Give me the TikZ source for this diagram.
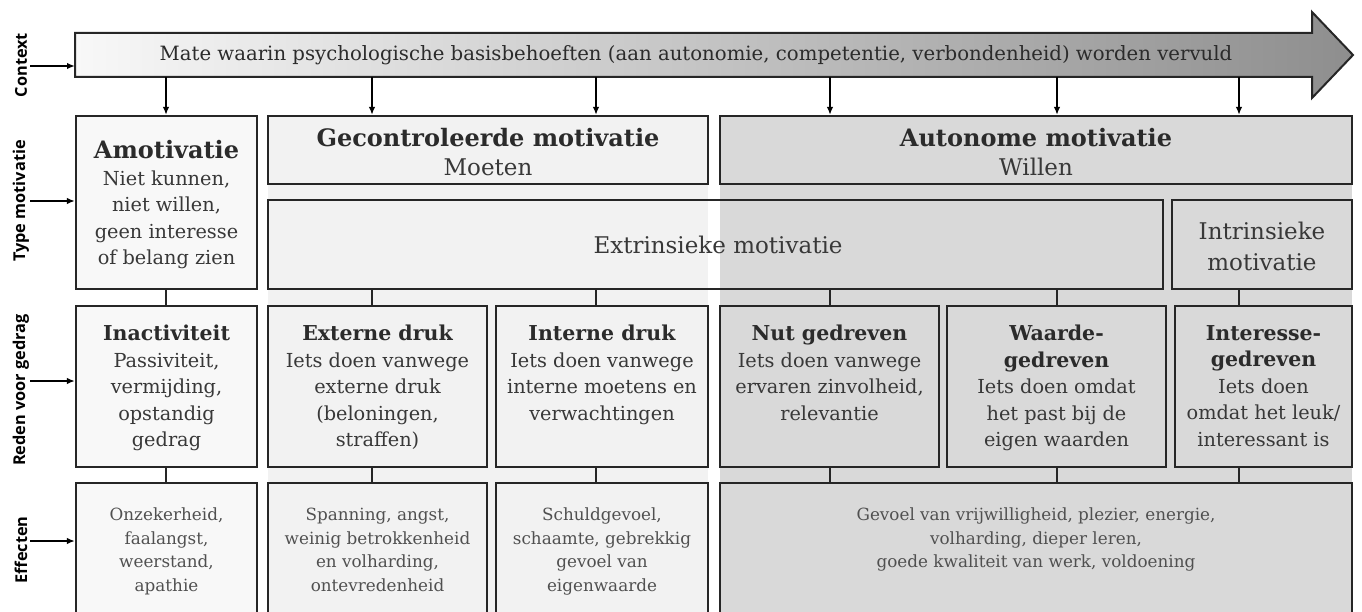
\documentclass[tikz,border=0pt]{standalone}
\usepackage{fontspec}
\setmainfont{DejaVu Serif}
\newfontfamily\labfont{Open Sans}
\usetikzlibrary{arrows.meta,calc}
\definecolor{bordc}{HTML}{262626}
\definecolor{txtc}{HTML}{383838}
\definecolor{ttlc}{HTML}{2B2B2B}
\definecolor{efftc}{HTML}{505050}
\definecolor{lightcol}{HTML}{F2F2F2}
\definecolor{graycol}{HTML}{D9D9D9}
\definecolor{amotcol}{HTML}{F8F8F8}
\definecolor{arrowl}{HTML}{F8F8F8}
\definecolor{arrowr}{HTML}{8E8E8E}
\begin{document}
\begin{tikzpicture}[x=1pt,y=-1pt,
  boxst/.style={draw=bordc, line width=2.2pt, inner sep=0pt},
  body/.style={text=txtc, align=center, inner sep=0pt, font=\fontsize{19.3}{26.5}\selectfont},
  bigst/.style={text=txtc, align=center, inner sep=0pt, font=\fontsize{23}{29}\selectfont},
  effst/.style={text=efftc, align=center, inner sep=0pt, font=\fontsize{16.8}{23.5}\selectfont},
  labst/.style={text=black, inner sep=0pt, rotate=90, font=\labfont\bfseries\fontsize{16.3}{18}\selectfont},
  conn/.style={draw=bordc, line width=1.8pt},
  carrow/.style={draw=black, line width=1.8pt, -{Latex[length=8pt,width=6.5pt]}}
]
\useasboundingbox (0,0) rectangle (1362,612);
\begin{scope}
\clip (0,0) rectangle (1362,612);
% column backgrounds
\fill[lightcol] (268,184) rectangle (708,640);
\fill[graycol] (720,184) rectangle (1352,640);
% context arrow
\shade[left color=arrowl, right color=arrowr, draw=bordc, line width=2pt]
  (75,33) -- (1312,33) -- (1312,12) -- (1353,55) -- (1312,98) -- (1312,77) -- (75,77) -- cycle;
\node[body, text=ttlc, font=\fontsize{19.7}{22}\selectfont] (ctx) at (696,55) {Mate waarin psychologische basisbehoeften (aan autonomie, competentie, verbondenheid) worden vervuld};
% row 1
\node[boxst, fill=amotcol, minimum width=181pt, minimum height=173pt] (amot) at (166.5,202.5) {};
\node[boxst, fill=lightcol, minimum width=440pt, minimum height=68pt] (gec) at (488,150) {};
\node[boxst, fill=graycol, minimum width=632pt, minimum height=68pt] (aut) at (1036,150) {};
% row 2
\node[boxst, minimum width=895pt, minimum height=89pt] (extr) at (715.5,244.5) {};
\node[boxst, fill=graycol, minimum width=180pt, minimum height=89pt] (intr) at (1262,244.5) {};
% row 3
\node[boxst, fill=amotcol, minimum width=181pt, minimum height=161pt] (inact) at (166.5,386.5) {};
\node[boxst, fill=lightcol, minimum width=219pt, minimum height=161pt] (extd) at (377.5,386.5) {};
\node[boxst, fill=lightcol, minimum width=212pt, minimum height=161pt] (intd) at (602,386.5) {};
\node[boxst, fill=graycol, minimum width=219pt, minimum height=161pt] (nut) at (829.5,386.5) {};
\node[boxst, fill=graycol, minimum width=219pt, minimum height=161pt] (waarde) at (1056.5,386.5) {};
\node[boxst, fill=graycol, minimum width=177pt, minimum height=161pt] (inter) at (1263.5,386.5) {};
% row 4
\node[boxst, fill=amotcol, minimum width=181pt, minimum height=157pt] (eff1) at (166.5,561.5) {};
\node[boxst, fill=lightcol, minimum width=219pt, minimum height=157pt] (eff2) at (377.5,561.5) {};
\node[boxst, fill=lightcol, minimum width=212pt, minimum height=157pt] (eff3) at (602,561.5) {};
\node[boxst, fill=graycol, minimum width=632pt, minimum height=157pt] (eff4) at (1036,561.5) {};
% connector x positions
\coordinate (k1) at (166,77);
\coordinate (k2) at (372,77);
\coordinate (k3) at (596,77);
\coordinate (k4) at (830,77);
\coordinate (k5) at (1057,77);
\coordinate (k6) at (1239,77);
% arrows from context
\draw[carrow] (k1) -- (k1 |- amot.north);
\draw[carrow] (k2) -- (k2 |- gec.north);
\draw[carrow] (k3) -- (k3 |- gec.north);
\draw[carrow] (k4) -- (k4 |- aut.north);
\draw[carrow] (k5) -- (k5 |- aut.north);
\draw[carrow] (k6) -- (k6 |- aut.north);
% row 2 -> row 3
\draw[conn] (k1 |- amot.south) -- (k1 |- inact.north);
\draw[conn] (k2 |- extr.south) -- (k2 |- extd.north);
\draw[conn] (k3 |- extr.south) -- (k3 |- intd.north);
\draw[conn] (k4 |- extr.south) -- (k4 |- nut.north);
\draw[conn] (k5 |- extr.south) -- (k5 |- waarde.north);
\draw[conn] (k6 |- intr.south) -- (k6 |- inter.north);
% row 3 -> row 4
\draw[conn] (k1 |- inact.south) -- (k1 |- eff1.north);
\draw[conn] (k2 |- extd.south) -- (k2 |- eff2.north);
\draw[conn] (k3 |- intd.south) -- (k3 |- eff3.north);
\draw[conn] (k4 |- nut.south) -- (k4 |- eff4.north);
\draw[conn] (k5 |- waarde.south) -- (k5 |- eff4.north);
\draw[conn] (k6 |- inter.south) -- (k6 |- eff4.north);
% texts row 1
\node[body] (amot-t) at (166.5,205) {{\color{ttlc}\bfseries\fontsize{24}{30}\selectfont Amotivatie}\\Niet kunnen,\\niet willen,\\geen interesse\\of belang zien};
\node[bigst] (gec-t) at (488,152) {{\color{ttlc}\bfseries\fontsize{24}{29}\selectfont Gecontroleerde motivatie}\\Moeten};
\node[bigst] (aut-t) at (1036,152) {{\color{ttlc}\bfseries\fontsize{24}{29}\selectfont Autonome motivatie}\\Willen};
% texts row 2
\node[bigst] (extr-t) at (718,244.5) {Extrinsieke motivatie};
\node[bigst, font=\fontsize{23}{31}\selectfont] (intr-t) at (1262,246) {Intrinsieke\\motivatie};
% texts row 3
\node[body, anchor=north, yshift=-20pt] (inact-t) at (inact.north) {{\color{ttlc}\bfseries\fontsize{20.5}{26.5}\selectfont Inactiviteit}\\Passiviteit,\\vermijding,\\opstandig\\gedrag};
\node[body, anchor=north, yshift=-20pt] (extd-t) at (extd.north) {{\color{ttlc}\bfseries\fontsize{20.5}{26.5}\selectfont Externe druk}\\Iets doen vanwege\\externe druk\\(beloningen,\\straffen)};
\node[body, anchor=north, yshift=-20pt] (intd-t) at (intd.north) {{\color{ttlc}\bfseries\fontsize{20.5}{26.5}\selectfont Interne druk}\\Iets doen vanwege\\interne moetens en\\verwachtingen};
\node[body, anchor=north, yshift=-20pt] (nut-t) at (nut.north) {{\color{ttlc}\bfseries\fontsize{20.5}{26.5}\selectfont Nut gedreven}\\Iets doen vanwege\\ervaren zinvolheid,\\relevantie};
\node[body, anchor=north, yshift=-20pt] (waarde-t) at (waarde.north) {{\color{ttlc}\bfseries\fontsize{20.5}{26.5}\selectfont Waarde-}\\{\color{ttlc}\bfseries\fontsize{20.5}{26.5}\selectfont gedreven}\\Iets doen omdat\\het past bij de\\eigen waarden};
\node[body, anchor=north, yshift=-20pt] (inter-t) at (inter.north) {{\color{ttlc}\bfseries\fontsize{20.5}{26.5}\selectfont Interesse-}\\{\color{ttlc}\bfseries\fontsize{20.5}{26.5}\selectfont gedreven}\\Iets doen\\omdat het leuk/\\interessant is};
% texts row 4
\node[effst, anchor=north, yshift=-26pt] (eff1-t) at (eff1.north) {Onzekerheid,\\faalangst,\\weerstand,\\apathie};
\node[effst, anchor=north, yshift=-26pt] (eff2-t) at (eff2.north) {Spanning, angst,\\weinig betrokkenheid\\en volharding,\\ontevredenheid};
\node[effst, anchor=north, yshift=-26pt] (eff3-t) at (eff3.north) {Schuldgevoel,\\schaamte, gebrekkig\\gevoel van\\eigenwaarde};
\node[effst, anchor=north, yshift=-26pt] (eff4-t) at (eff4.north) {Gevoel van vrijwilligheid, plezier, energie,\\volharding, dieper leren,\\goede kwaliteit van werk, voldoening};
\end{scope}
% side labels
\node[labst] (l1) at (21,65) {Context};
\node[labst] (l2) at (21,201) {Type motivatie};
\node[labst] (l3) at (21,390) {Reden voor gedrag};
\node[labst] (l4) at (21,550) {Effecten};
\draw[carrow] (30,66) coordinate (a1) -- (a1 -| 75,0);
\draw[carrow] (30,201) coordinate (a2) -- (a2 -| amot.west);
\draw[carrow] (30,381) coordinate (a3) -- (a3 -| inact.west);
\draw[carrow] (30,541) coordinate (a4) -- (a4 -| eff1.west);
\end{tikzpicture}
\end{document}
